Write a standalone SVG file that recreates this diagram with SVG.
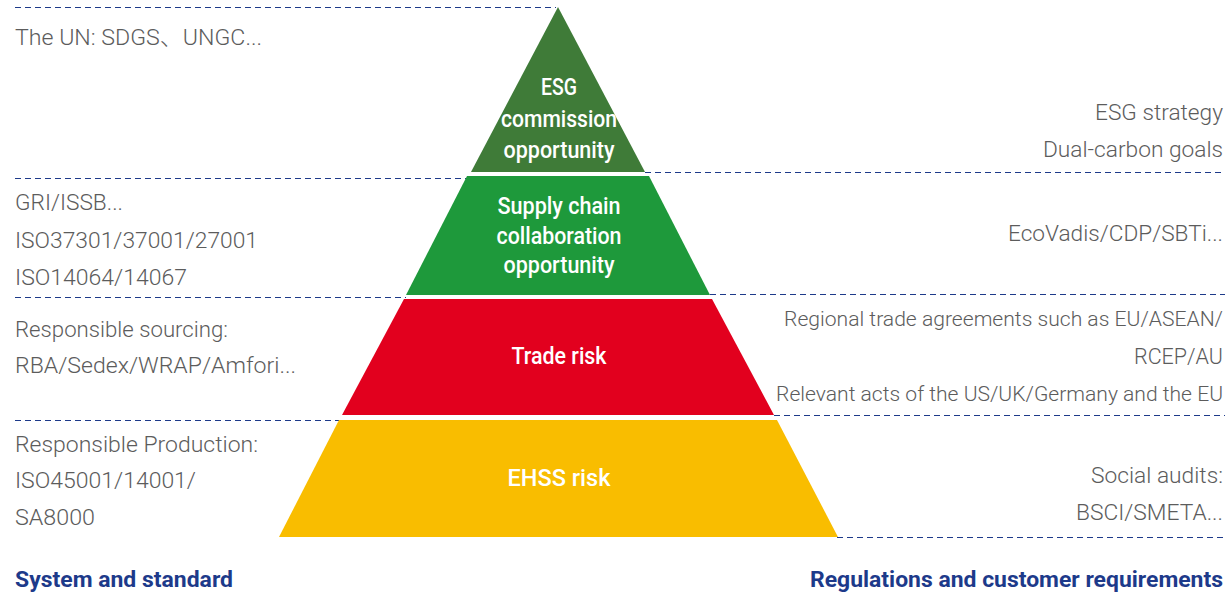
<svg xmlns="http://www.w3.org/2000/svg" width="1227" height="596" viewBox="0 0 1227 596">
<style>
.side{font-family:Roboto,"Noto Sans CJK SC","Liberation Sans",sans-serif;font-weight:300;font-size:22.5px;fill:#5c5c5c}
.sm{font-size:21px}
.lab{font-family:Roboto,"Liberation Sans",sans-serif;font-weight:500;font-size:23px;fill:#ffffff;text-anchor:middle}
.title{font-family:Roboto,"Liberation Sans",sans-serif;font-weight:700;font-size:22px;fill:#1d3a8a}
.dash{stroke:#1d3a8a;stroke-width:1.2;stroke-dasharray:6 4;fill:none}
</style>
<rect width="1227" height="596" fill="#ffffff"/>
<g id="connectors">
<line class="dash" x1="15" y1="7.5" x2="556" y2="7.5"/>
<line class="dash" x1="15" y1="178.5" x2="468" y2="178.5"/>
<line class="dash" x1="645" y1="172.5" x2="1225" y2="172.5"/>
<line class="dash" x1="15" y1="297.5" x2="406" y2="297.5"/>
<line class="dash" x1="710" y1="294.5" x2="1225" y2="294.5"/>
<line class="dash" x1="15" y1="420.5" x2="342" y2="420.5"/>
<line class="dash" x1="774" y1="415.5" x2="1225" y2="415.5"/>
<line class="dash" x1="837" y1="537.5" x2="1225" y2="537.5"/>
</g>
<g id="layer-esg">
<polygon points="558,7 645,172 471,172" fill="#3f7b38"/>
<text class="lab" x="559" y="95" textLength="36" lengthAdjust="spacingAndGlyphs">ESG</text>
<text class="lab" x="559" y="127" textLength="116" lengthAdjust="spacingAndGlyphs">commission</text>
<text class="lab" x="559" y="158" textLength="111" lengthAdjust="spacingAndGlyphs">opportunity</text>
</g>
<g id="layer-supply">
<polygon points="467,176 649,176 710,295 406,295" fill="#1e993b"/>
<text class="lab" x="559" y="214" textLength="123" lengthAdjust="spacingAndGlyphs">Supply chain</text>
<text class="lab" x="559" y="244" textLength="125" lengthAdjust="spacingAndGlyphs">collaboration</text>
<text class="lab" x="559" y="273" textLength="111" lengthAdjust="spacingAndGlyphs">opportunity</text>
</g>
<g id="layer-trade">
<polygon points="404,299 712,299 774,415 342,415" fill="#e2001e"/>
<text class="lab" x="559" y="364" textLength="95" lengthAdjust="spacingAndGlyphs">Trade risk</text>
</g>
<g id="layer-ehss">
<polygon points="339,420 777,420 838,537 279,537" fill="#f9bd00"/>
<text class="lab" x="559" y="486" textLength="103" lengthAdjust="spacingAndGlyphs">EHSS risk</text>
</g>
<g id="left-texts">
<text class="side" x="15" y="45" textLength="247" lengthAdjust="spacingAndGlyphs">The UN: SDGS、UNGC...</text>
<text class="side" x="15" y="210" textLength="108" lengthAdjust="spacingAndGlyphs">GRI/ISSB...</text>
<text class="side" x="15" y="248" textLength="243" lengthAdjust="spacingAndGlyphs">ISO37301/37001/27001</text>
<text class="side" x="15" y="285" textLength="172" lengthAdjust="spacingAndGlyphs">ISO14064/14067</text>
<text class="side" x="15" y="337" textLength="213" lengthAdjust="spacingAndGlyphs">Responsible sourcing:</text>
<text class="side" x="15" y="373" textLength="281" lengthAdjust="spacingAndGlyphs">RBA/Sedex/WRAP/Amfori...</text>
<text class="side" x="15" y="452" textLength="243" lengthAdjust="spacingAndGlyphs">Responsible Production:</text>
<text class="side" x="15" y="488" textLength="181" lengthAdjust="spacingAndGlyphs">ISO45001/14001/</text>
<text class="side" x="15" y="525" textLength="80" lengthAdjust="spacingAndGlyphs">SA8000</text>
</g>
<g id="right-texts">
<text class="side" x="1095" y="120" textLength="128" lengthAdjust="spacingAndGlyphs">ESG strategy</text>
<text class="side" x="1043" y="157" textLength="180" lengthAdjust="spacingAndGlyphs">Dual-carbon goals</text>
<text class="side" x="1008" y="241" textLength="215" lengthAdjust="spacingAndGlyphs">EcoVadis/CDP/SBTi...</text>
<text class="side sm" x="784" y="326" textLength="439" lengthAdjust="spacingAndGlyphs">Regional trade agreements such as EU/ASEAN/</text>
<text class="side" x="1134" y="364" textLength="89" lengthAdjust="spacingAndGlyphs">RCEP/AU</text>
<text class="side sm" x="776" y="401" textLength="447" lengthAdjust="spacingAndGlyphs">Relevant acts of the US/UK/Germany and the EU</text>
<text class="side" x="1091" y="483" textLength="132" lengthAdjust="spacingAndGlyphs">Social audits:</text>
<text class="side" x="1076" y="520" textLength="147" lengthAdjust="spacingAndGlyphs">BSCI/SMETA...</text>
</g>
<g id="titles">
<text class="title" x="15" y="587" textLength="218" lengthAdjust="spacingAndGlyphs">System and standard</text>
<text class="title" x="810" y="587" textLength="413" lengthAdjust="spacingAndGlyphs">Regulations and customer requirements</text>
</g>
</svg>
